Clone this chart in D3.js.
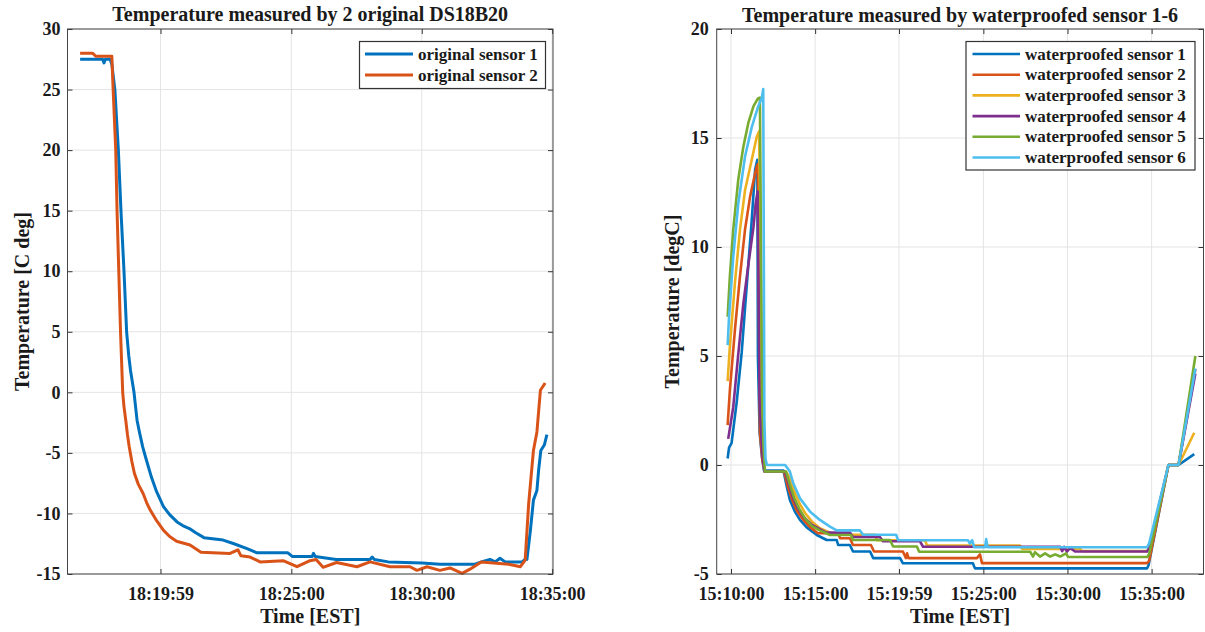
<!DOCTYPE html>
<html><head><meta charset="utf-8">
<script src="https://cdn.jsdelivr.net/npm/d3@7"></script>
<style>
body{margin:0;background:#fff}
svg{display:block}
text{font-family:"Liberation Serif","Times New Roman",serif;font-weight:bold;fill:#1a1a1a}
</style>
</head><body>
<svg id="chart" width="1205" height="632"></svg>
<script>
// ---------------- DATA ----------------
const leftTitle = "Temperature measured by 2 original DS18B20";
const leftYLabel = "Temperature [C deg]";
const leftXTicks = ["18:19:59","18:25:00","18:30:00","18:35:00"];
const leftYTicks = [30,25,20,15,10,5,0,-5,-10,-15];
const leftXDomain = ["18:16:25","18:35:02"];
const leftYDomain = [-15,30];
const leftNames = ["original sensor 1","original sensor 2"];

const origSensor1 = [["18:16:54",27.5],["18:17:46",27.5],["18:17:49",27.2],["18:17:52",27.5],["18:18:03",27.5],["18:18:07",27.1],["18:18:14",25],["18:18:22",20],["18:18:28",15],["18:18:35",10],["18:18:41",5],["18:18:46",3.0],["18:18:50",1.8],["18:18:58",0],["18:19:05",-2.3],["18:19:10",-3.2],["18:19:18",-4.5],["18:19:25",-5.4],["18:19:38",-7.0],["18:19:50",-8.2],["18:20:06",-9.45],["18:20:20",-10.1],["18:20:37",-10.7],["18:20:50",-11.0],["18:21:08",-11.3],["18:21:20",-11.6],["18:21:39",-12.0],["18:22:23",-12.2],["18:22:48",-12.5],["18:23:18",-12.9],["18:23:41",-13.25],["18:24:52",-13.25],["18:25:02",-13.55],["18:25:48",-13.55],["18:25:51",-13.3],["18:25:55",-13.55],["18:26:43",-13.8],["18:28:01",-13.8],["18:28:06",-13.6],["18:28:11",-13.8],["18:28:43",-14.0],["18:30:01",-14.1],["18:30:42",-14.2],["18:32:01",-14.2],["18:32:17",-14.0],["18:32:37",-13.8],["18:32:49",-14.0],["18:33:00",-13.7],["18:33:12",-14.0],["18:33:51",-14.0],["18:33:59",-13.75],["18:34:02",-13.8],["18:34:10",-11.4],["18:34:17",-8.9],["18:34:25",-8.1],["18:34:29",-6.4],["18:34:34",-4.8],["18:34:42",-4.35],["18:34:48",-3.5]];
const origSensor2 = [["18:16:54",28.0],["18:17:23",28.0],["18:17:30",27.75],["18:18:07",27.75],["18:18:10",25],["18:18:16",20],["18:18:19",15],["18:18:23",10],["18:18:27",5],["18:18:32",0],["18:18:35",-1.2],["18:18:39",-2.3],["18:18:43",-3.5],["18:18:47",-4.5],["18:18:53",-5.7],["18:18:59",-6.7],["18:19:08",-7.6],["18:19:19",-8.35],["18:19:27",-9.1],["18:19:35",-9.7],["18:19:50",-10.6],["18:20:06",-11.4],["18:20:20",-11.9],["18:20:36",-12.3],["18:21:07",-12.6],["18:21:32",-13.2],["18:22:39",-13.3],["18:22:57",-13.0],["18:23:04",-13.5],["18:23:25",-13.6],["18:23:48",-14.0],["18:24:41",-13.9],["18:25:13",-14.4],["18:25:43",-13.9],["18:25:57",-13.8],["18:26:13",-14.45],["18:26:44",-14.05],["18:27:31",-14.4],["18:28:01",-14.0],["18:28:47",-14.4],["18:29:33",-14.4],["18:29:49",-14.7],["18:30:12",-14.4],["18:30:42",-14.7],["18:31:05",-14.5],["18:31:33",-14.95],["18:31:51",-14.6],["18:32:17",-14.0],["18:33:20",-14.2],["18:33:47",-14.4],["18:33:58",-13.85],["18:34:06",-9.2],["18:34:17",-4.8],["18:34:25",-3.27],["18:34:33",0.17],["18:34:44",0.77]];

const rightTitle = "Temperature measured by waterproofed sensor 1-6";
const rightYLabel = "Temperature [degC]";
const rightXTicks = ["15:10:00","15:15:00","15:19:59","15:25:00","15:30:00","15:35:00"];
const rightYTicks = [20,15,10,5,0,-5];
const rightXDomain = ["15:09:09","15:38:05"];
const rightYDomain = [-5,20];
const rightNames = ["waterproofed sensor 1","waterproofed sensor 2","waterproofed sensor 3","waterproofed sensor 4","waterproofed sensor 5","waterproofed sensor 6"];

const wpSensor1 = [["15:09:48",0.3],["15:09:53",0.8],["15:10:02",1.0],["15:10:20",2.85],["15:10:38",5.14],["15:10:56",8.2],["15:11:14",11.25],["15:11:26",13.55],["15:11:34",14.0],["15:11:36",5.0],["15:11:42",1.5],["15:11:51",0.3],["15:11:58",-0.25],["15:13:07",-0.25],["15:13:19",-1.0],["15:13:30",-1.6],["15:13:48",-2.14],["15:14:06",-2.52],["15:14:30",-2.86],["15:15:06",-3.21],["15:15:41",-3.44],["15:16:17",-3.44],["15:16:22",-3.67],["15:17:04",-3.67],["15:17:15",-3.97],["15:18:16",-3.97],["15:18:27",-4.27],["15:20:03",-4.27],["15:20:13",-4.51],["15:24:23",-4.51],["15:24:26",-4.62],["15:24:30",-4.74],["15:34:44",-4.74],["15:34:49",-4.6],["15:36:00",0],["15:36:36",0],["15:37:32",0.5]];
const wpSensor2 = [["15:09:48",1.83],["15:09:56",3.44],["15:10:14",6.2],["15:10:32",8.65],["15:10:50",10.8],["15:11:08",12.3],["15:11:23",13.2],["15:11:32",13.7],["15:11:36",13.8],["15:11:43",1.5],["15:11:52",0.2],["15:12:01",-0.3],["15:13:09",-0.3],["15:13:23",-1.0],["15:13:38",-1.6],["15:13:55",-2.1],["15:14:17",-2.5],["15:14:42",-2.85],["15:15:10",-3.13],["15:16:22",-3.13],["15:16:29",-3.36],["15:17:04",-3.36],["15:17:15",-3.67],["15:18:19",-3.67],["15:18:30",-3.97],["15:20:13",-3.97],["15:20:24",-4.27],["15:20:28",-4.05],["15:20:33",-4.27],["15:24:37",-4.27],["15:24:48",-4.1],["15:24:55",-4.5],["15:34:44",-4.5],["15:34:51",-4.4],["15:36:00",0],["15:36:36",0],["15:37:36",4.4]];
const wpSensor3 = [["15:09:48",3.85],["15:09:56",5.45],["15:10:14",8.35],["15:10:32",10.8],["15:10:50",12.6],["15:11:14",14.0],["15:11:32",15.07],["15:11:40",15.3],["15:11:43",12.7],["15:11:52",1.0],["15:11:59",-0.3],["15:13:16",-0.3],["15:13:34",-0.7],["15:13:48",-1.3],["15:14:06",-1.8],["15:14:24",-2.2],["15:14:49",-2.6],["15:15:17",-2.9],["15:15:53",-3.1],["15:16:10",-3.2],["15:18:34",-3.2],["15:18:41",-3.45],["15:21:32",-3.45],["15:21:39",-3.7],["15:27:11",-3.7],["15:27:18",-3.85],["15:30:45",-3.85],["15:30:52",-3.95],["15:34:44",-3.95],["15:34:51",-3.8],["15:36:00",0],["15:36:36",0],["15:37:32",1.48]];
const wpSensor4 = [["15:09:50",1.2],["15:10:08",2.65],["15:10:26",5.1],["15:10:44",7.4],["15:11:02",9.2],["15:11:20",10.9],["15:11:28",12.0],["15:11:35",12.55],["15:11:42",3.0],["15:11:51",0.6],["15:11:59",-0.3],["15:13:13",-0.3],["15:13:27",-0.9],["15:13:41",-1.5],["15:13:59",-2.0],["15:14:20",-2.4],["15:14:49",-2.75],["15:15:25",-3.0],["15:15:40",-3.1],["15:17:04",-3.1],["15:17:15",-3.3],["15:18:51",-3.3],["15:19:02",-3.5],["15:21:14",-3.5],["15:21:25",-3.75],["15:29:34",-3.75],["15:29:41",-3.95],["15:29:48",-3.75],["15:29:58",-3.97],["15:30:09",-3.8],["15:30:27",-3.97],["15:34:44",-3.97],["15:34:51",-3.8],["15:36:00",0],["15:36:36",0],["15:37:36",4.2]];
const wpSensor5 = [["15:09:48",6.8],["15:09:56",8.65],["15:10:08",10.8],["15:10:26",13.1],["15:10:44",14.6],["15:11:02",15.7],["15:11:20",16.45],["15:11:35",16.8],["15:11:43",16.85],["15:11:51",3.0],["15:11:56",0.8],["15:12:01",-0.3],["15:13:16",-0.3],["15:13:30",-0.9],["15:13:45",-1.5],["15:14:03",-2.0],["15:14:24",-2.45],["15:14:49",-2.8],["15:15:17",-3.0],["15:15:53",-3.21],["15:17:08",-3.21],["15:17:15",-3.44],["15:19:27",-3.44],["15:19:38",-3.74],["15:21:03",-3.74],["15:21:11",-3.98],["15:27:47",-3.98],["15:27:57",-4.2],["15:28:04",-4.0],["15:28:22",-4.2],["15:28:40",-4.05],["15:28:58",-4.2],["15:29:16",-4.1],["15:29:34",-4.2],["15:29:55",-4.05],["15:30:02",-4.22],["15:34:44",-4.22],["15:34:51",-4.1],["15:36:00",0],["15:36:36",0],["15:37:36",5.0]];
const wpSensor6 = [["15:09:48",5.5],["15:09:53",6.8],["15:10:08",9.55],["15:10:26",12.0],["15:10:50",14.15],["15:11:14",15.5],["15:11:37",16.45],["15:11:50",16.85],["15:11:55",17.25],["15:11:59",2.0],["15:12:03",0.3],["15:12:08",0],["15:13:13",0],["15:13:30",-0.3],["15:13:42",-0.84],["15:14:06",-1.53],["15:14:42",-2.14],["15:15:17",-2.52],["15:15:53",-2.83],["15:16:17",-3.0],["15:17:40",-3.0],["15:17:51",-3.2],["15:19:49",-3.2],["15:19:56",-3.45],["15:24:05",-3.45],["15:24:12",-3.6],["15:24:20",-3.45],["15:24:27",-3.77],["15:25:06",-3.77],["15:25:10",-3.4],["15:25:15",-3.77],["15:34:44",-3.77],["15:34:51",-3.6],["15:36:00",0],["15:36:36",0],["15:37:36",4.43]];

const leftColors = ["#0072BD","#D95319"];
const rightColors = ["#0072BD","#D95319","#EDB120","#7E2F8E","#77AC30","#4DBEEE"];

// ---------------- DRAW ----------------
const parseT = d3.timeParse("%H:%M:%S");
const svg = d3.select("#chart");

function panel(p) {
  const x = d3.scaleTime().domain(p.xDomain.map(parseT)).range([p.left, p.right]);
  const y = d3.scaleLinear().domain(p.yDomain).range([p.bottom, p.top]);
  const g = svg.append("g");
  const gridC = "#e4e4e4";
  g.append("rect").attr("x", p.left).attr("y", p.top).attr("width", p.right - p.left).attr("height", p.bottom - p.top).attr("fill", "#fff");
  g.append("g").selectAll("line").data(p.xTicks).join("line")
    .attr("x1", d => x(parseT(d))).attr("x2", d => x(parseT(d)))
    .attr("y1", p.top).attr("y2", p.bottom).attr("stroke", gridC).attr("stroke-width", 1);
  g.append("g").selectAll("line").data(p.yTicks).join("line")
    .attr("y1", d => y(d)).attr("y2", d => y(d))
    .attr("x1", p.left).attr("x2", p.right).attr("stroke", gridC).attr("stroke-width", 1);

  const line = d3.line().x(d => x(parseT(d[0]))).y(d => y(d[1]));
  p.series.forEach((s, i) => {
    g.append("path").attr("d", line(s)).attr("fill", "none")
      .attr("stroke", p.colors[i]).attr("stroke-width", p.lw)
      .attr("stroke-linejoin", "round").attr("stroke-linecap", "butt");
  });

  const fs = 18;
  const xb = g.append("g").attr("transform", `translate(0,${p.bottom})`)
    .call(d3.axisBottom(x).tickValues(p.xTicks.map(parseT)).tickFormat((d, i) => p.xTicks[i])
      .tickSizeInner(-5).tickSizeOuter(0).tickPadding(13));
  const xt = g.append("g").attr("transform", `translate(0,${p.top})`)
    .call(d3.axisTop(x).tickValues(p.xTicks.map(parseT)).tickFormat("").tickSizeInner(-5).tickSizeOuter(0));
  const yl = g.append("g").attr("transform", `translate(${p.left},0)`)
    .call(d3.axisLeft(y).tickValues(p.yTicks).tickFormat(d => String(d)).tickSizeInner(-5).tickSizeOuter(0).tickPadding(p.ypad));
  const yr = g.append("g").attr("transform", `translate(${p.right},0)`)
    .call(d3.axisRight(y).tickValues(p.yTicks).tickFormat("").tickSizeInner(-5).tickSizeOuter(0));
  [xb, xt, yl, yr].forEach(a => {
    a.select(".domain").remove();
    a.selectAll("line").attr("stroke", "#333");
    a.selectAll("text").attr("font-size", fs).attr("fill", "#1a1a1a")
      .attr("font-family", '"Liberation Serif","Times New Roman",serif').attr("font-weight", "bold");
  });
  g.append("rect").attr("x", p.left).attr("y", p.top).attr("width", p.right - p.left).attr("height", p.bottom - p.top)
    .attr("fill", "none").attr("stroke", "#444").attr("stroke-width", 1);

  // title & labels
  const cx = (p.left + p.right) / 2;
  g.append("text").attr("x", cx).attr("y", p.titleY).attr("text-anchor", "middle").attr("font-size", 20).text(p.title);
  g.append("text").attr("x", cx).attr("y", 623).attr("text-anchor", "middle").attr("font-size", 20).text("Time [EST]");
  g.append("text").attr("transform", `translate(${p.ylabX},${(p.top + p.bottom) / 2}) rotate(-90)`)
    .attr("text-anchor", "middle").attr("font-size", 20).text(p.ylabel);

  // legend
  const L = p.legend;
  g.append("rect").attr("x", L.x).attr("y", L.y).attr("width", L.w).attr("height", L.h)
    .attr("fill", "#fff").attr("stroke", "#333").attr("stroke-width", 1.2);
  p.names.forEach((n, i) => {
    const ry = L.row0 + i * L.step;
    g.append("line").attr("x1", L.lx1).attr("x2", L.lx2).attr("y1", ry).attr("y2", ry)
      .attr("stroke", p.colors[i]).attr("stroke-width", p.lw);
    g.append("text").attr("x", L.tx).attr("y", ry).attr("dy", "0.33em").attr("font-size", 17).text(n);
  });
}

panel({
  left: 67.5, right: 553, top: 29, bottom: 574,
  xDomain: leftXDomain, yDomain: leftYDomain, xTicks: leftXTicks, yTicks: leftYTicks,
  series: [origSensor1, origSensor2], colors: leftColors, names: leftNames, lw: 3,
  title: leftTitle, ylabel: leftYLabel, titleY: 21, ylabX: 29, ypad: 7,
  legend: {x: 359.5, y: 41.5, w: 186, h: 47, row0: 54, step: 21, lx1: 365, lx2: 413, tx: 418}
});
panel({
  left: 716.7, right: 1203.5, top: 29, bottom: 574,
  xDomain: rightXDomain, yDomain: rightYDomain, xTicks: rightXTicks, yTicks: rightYTicks,
  series: [wpSensor1, wpSensor2, wpSensor3, wpSensor4, wpSensor5, wpSensor6], colors: rightColors, names: rightNames, lw: 2.6,
  title: rightTitle, ylabel: rightYLabel, titleY: 22, ylabX: 679, ypad: 8,
  legend: {x: 966, y: 41.5, w: 229, h: 128.5, row0: 54, step: 20.7, lx1: 972.5, lx2: 1020, tx: 1025}
});
</script>
</body></html>
